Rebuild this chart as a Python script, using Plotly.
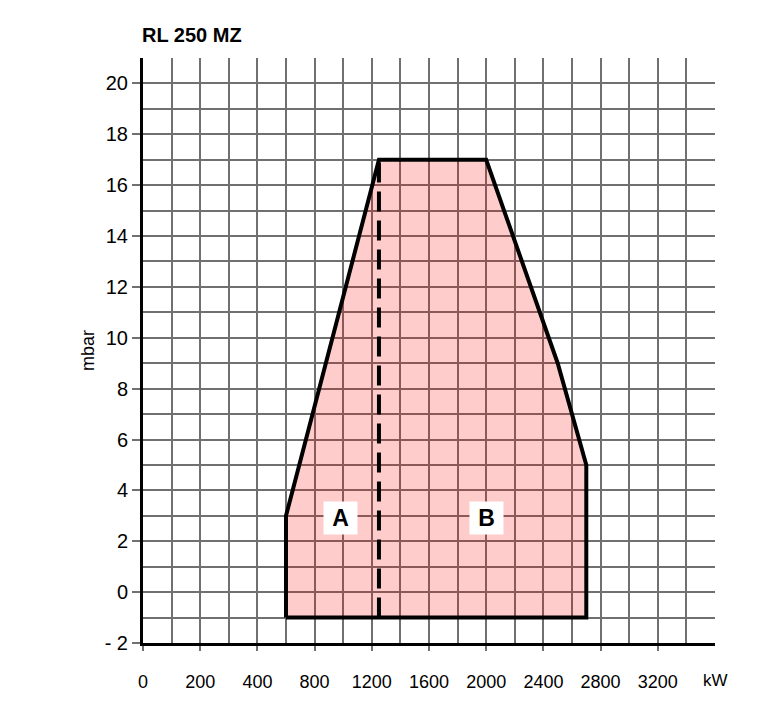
import plotly.graph_objects as go

# Working field of burner RL 250 MZ
envelope_kw = [600, 600, 1250, 2000, 2500, 2700, 2700, 600]
envelope_mbar = [-1, 3, 17, 17, 9, 5, -1, -1]

divider_kw = [1250, 1250]
divider_mbar = [-1, 17]

zone_labels = ["A", "B"]
zone_kw = [980, 2000]
zone_mbar = [2.9, 2.9]

# x axis: printed labels (chart's own, non-uniform labelling)
x_tickvals = [-400, 0, 400, 800, 1200, 1600, 2000, 2400, 2800, 3200]
x_ticktext = ["0", "200", "400", "800", "1200", "1600", "2000", "2400", "2800", "3200"]
y_tickvals = [-2, 0, 2, 4, 6, 8, 10, 12, 14, 16, 18, 20]
y_ticktext = ["- 2", "0", "2", "4", "6", "8", "10", "12", "14", "16", "18", "20"]

FONT = "Liberation Sans, Arial, Helvetica, sans-serif"

fig = go.Figure()
fig.add_trace(go.Scatter(
    x=envelope_kw, y=envelope_mbar, mode="lines", fill="toself",
    fillcolor="rgba(255,0,0,0.2)", line=dict(color="black", width=4),
    hoverinfo="skip", showlegend=False))
fig.add_trace(go.Scatter(
    x=divider_kw, y=divider_mbar, mode="lines",
    line=dict(color="black", width=4, dash="20px,9px"),
    hoverinfo="skip", showlegend=False))

for lab, xv, yv in zip(zone_labels, zone_kw, zone_mbar):
    fig.add_annotation(x=xv, y=yv, text="<b>%s</b>" % lab, showarrow=False,
                       font=dict(family=FONT, size=23, color="black"),
                       bgcolor="white", width=31, height=30, borderpad=1)

fig.add_annotation(x=3600, y=-2, xref="x", yref="y", text="kW", showarrow=False,
                   yshift=-37, font=dict(family=FONT, size=17, color="black"))

grid_col = "rgb(112,112,112)"
fig.update_xaxes(range=[-400, 3600], tickvals=x_tickvals, ticktext=x_ticktext,
                 showgrid=True, gridcolor=grid_col, gridwidth=2,
                 minor=dict(dtick=200, tick0=-400, showgrid=True, gridcolor=grid_col, gridwidth=2),
                 showline=True, linecolor="black", linewidth=3,
                 ticks="outside", ticklen=5, tickwidth=2, tickcolor=grid_col,
                 ticklabelstandoff=15, zeroline=False, automargin=False,
                 tickfont=dict(family=FONT, size=18, color="black"), fixedrange=True)
fig.update_yaxes(range=[-2, 21], tickvals=y_tickvals, ticktext=y_ticktext,
                 showgrid=True, gridcolor=grid_col, gridwidth=2,
                 minor=dict(dtick=1, tick0=0, showgrid=True, gridcolor=grid_col, gridwidth=2),
                 showline=True, linecolor="black", linewidth=3,
                 ticks="outside", ticklen=8, tickwidth=2, tickcolor=grid_col,
                 zeroline=False, automargin=False,
                 title=dict(text="mbar", font=dict(family=FONT, size=18, color="black"), standoff=6),
                 tickfont=dict(family=FONT, size=20, color="black"), fixedrange=True)

fig.update_layout(
    width=783, height=705,
    margin=dict(l=143, r=68, t=58, b=62),
    paper_bgcolor="white", plot_bgcolor="white",
    title=dict(text="<b>RL 250 MZ</b>", x=142/783, xanchor="left", y=1-35/705, yanchor="middle",
               font=dict(family=FONT, size=20, color="black"), automargin=False),
    showlegend=False,
)

fig.write_html("out.html")
